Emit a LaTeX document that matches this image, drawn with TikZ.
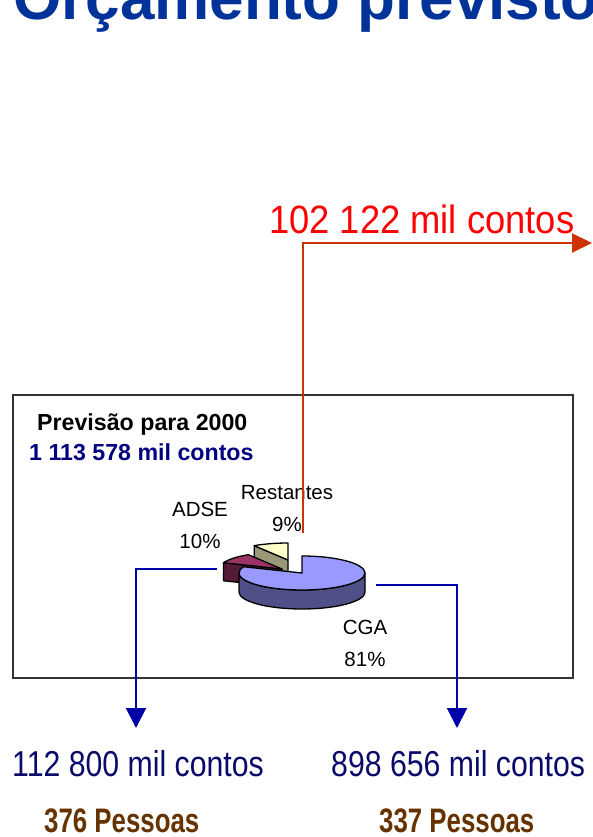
\documentclass[tikz,border=0pt]{standalone}
\usepackage{fontspec}
\setmainfont{Liberation Sans}
\newfontfamily\narrowfont[FakeStretch=0.84]{Liberation Sans}
\newfontfamily\redfont[FakeStretch=0.92]{Liberation Sans}
\newfontfamily\pessoasfont[FakeStretch=0.76]{Liberation Sans}
\usetikzlibrary{arrows.meta}

\definecolor{titleblue}{HTML}{003399}
\definecolor{valred}{HTML}{FF0000}
\definecolor{linered}{HTML}{CC3300}
\definecolor{lineblue}{HTML}{0000A8}
\definecolor{totalnavy}{HTML}{000080}
\definecolor{valnavy}{HTML}{0A0A6A}
\definecolor{pessbrown}{HTML}{663300}
\definecolor{cgaTop}{HTML}{9999FF}
\definecolor{cgaSide}{HTML}{505088}
\definecolor{adseTop}{HTML}{993366}
\definecolor{adseSide}{HTML}{551A35}
\definecolor{restTop}{HTML}{FFFFCC}
\definecolor{restSide}{HTML}{999977}

\begin{document}
\begin{tikzpicture}[x=1pt, y=1pt,
  txt/.style={inner sep=0pt, anchor=base west},
  pielbl/.style={inner sep=0pt, anchor=north, align=center,
    font=\fontsize{20.5}{32}\selectfont},
  pieline/.style={draw=black, line width=1.3pt, line join=round},
  redline/.style={draw=linered, line width=2pt, -{Triangle[width=19pt,length=20pt]}},
  blueline/.style={draw=lineblue, line width=2pt, -{Triangle[width=20pt,length=20pt]}}]
  \clip (0,0) rectangle (593,-837);

  % Title
  \node[txt, text=titleblue] (title) at (13,-20)
    {\fontsize{62}{62}\selectfont\bfseries Orçamento previsto};

  % Amount taken out
  \node[txt, text=valred] (redval) at (269,-233)
    {\fontsize{39.5}{40}\selectfont\redfont 102 122 mil contos};

  % Chart frame
  \draw[draw=black!80, line width=1.5pt] (13,-395) rectangle (573,-678);
  \node[txt] (boxtitle) at (37,-430)
    {\fontsize{23.2}{26}\selectfont\bfseries Previsão para 2000};
  \node[txt, text=totalnavy] (boxtotal) at (29,-460)
    {\fontsize{23.2}{26}\selectfont\bfseries 1 113 578 mil contos};

  % Pie: Restantes (pulled out)
  \begin{scope}[shift={(288,-560)}]
    \filldraw[pieline, fill=restSide] (0,0) -- (122.4:63 and 17) -- ++(0,-18) -- (0,-18) -- cycle;
    \filldraw[pieline, fill=restTop] (0,0) -- (90:63 and 17)
      arc[start angle=90, end angle=122.4, x radius=63, y radius=17] -- cycle;
  \end{scope}
  % Pie: ADSE (pulled out)
  \begin{scope}[shift={(282,-569)}]
    \filldraw[pieline, fill=adseSide] (0,0) -- (158.4:63 and 17) -- ++(0,-18) -- (0,-18) -- cycle;
    \filldraw[pieline, fill=adseTop] (0,0) -- (122.4:63 and 17)
      arc[start angle=122.4, end angle=158.4, x radius=63, y radius=17] -- cycle;
  \end{scope}
  % Pie: CGA
  \begin{scope}[shift={(302,-573)}]
    \filldraw[pieline, fill=cgaSide] (180:63 and 17)
      arc[start angle=180, end angle=360, x radius=63, y radius=17] -- ++(0,-19)
      arc[start angle=360, end angle=180, x radius=63, y radius=17] -- cycle;
    \filldraw[pieline, fill=cgaTop] (0,0) -- (90:63 and 17)
      arc[start angle=90, end angle=-201.6, x radius=63, y radius=17] -- cycle;
  \end{scope}

  % Slice labels
  \node[pielbl] (lblrest) at (287,-485) {Restantes\\9\%};
  \node[pielbl] (lbladse) at (200,-502) {ADSE\\10\%};
  \node[pielbl] (lblcga) at (365,-620) {CGA\\81\%};

  % Connectors
  \coordinate (restOut) at (303,-533);
  \coordinate (redEnd) at (592,-243);
  \draw[redline] (restOut) |- (redEnd);

  \coordinate (adseOut) at (217,-569);
  \coordinate (adseTip) at (136,-728);
  \draw[blueline] (adseOut) -| (adseTip);

  \coordinate (cgaOut) at (376,-585);
  \coordinate (cgaTip) at (457,-728);
  \draw[blueline] (cgaOut) -| (cgaTip);

  % Split of the budget
  \node[txt, text=valnavy] (valadse) at (12,-776)
    {\fontsize{36}{38}\selectfont\narrowfont 112 800 mil contos};
  \node[txt, text=valnavy] (valcga) at (331,-776)
    {\fontsize{36}{38}\selectfont\narrowfont 898 656 mil contos};
  \node[txt, text=pessbrown] (pessadse) at (44,-832)
    {\fontsize{34}{36}\selectfont\pessoasfont\bfseries 376 Pessoas};
  \node[txt, text=pessbrown] (pesscga) at (379,-832)
    {\fontsize{34}{36}\selectfont\pessoasfont\bfseries 337 Pessoas};
\end{tikzpicture}
\end{document}
